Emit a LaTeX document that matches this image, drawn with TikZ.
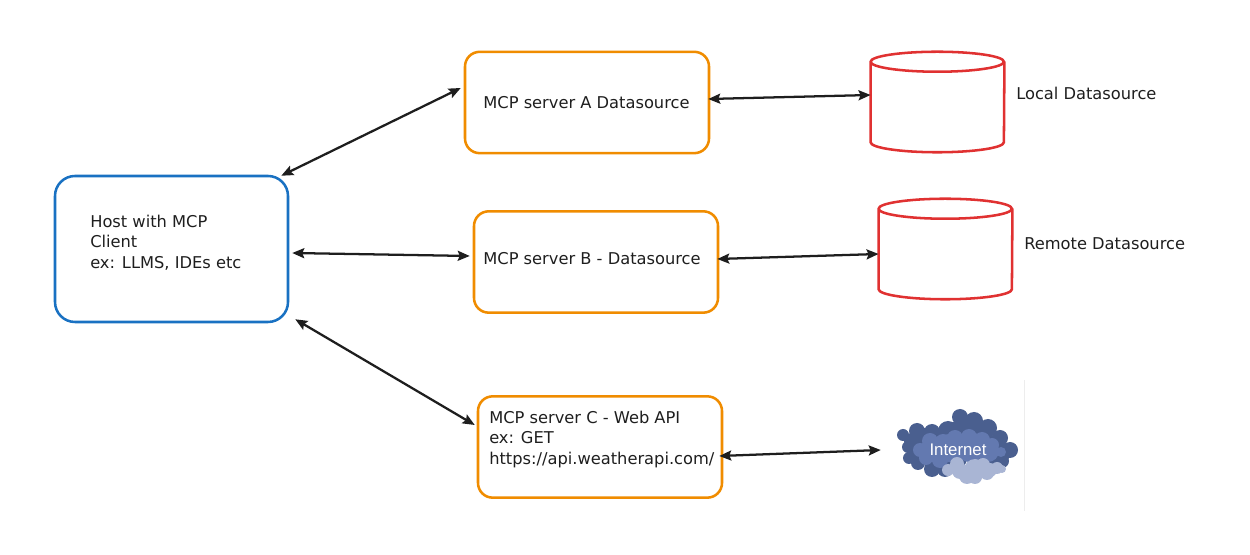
\documentclass[tikz,border=0pt]{standalone}
\usepackage{fontspec}
\setmainfont{DejaVu Sans}
\newfontfamily\inetfont{Liberation Sans}
\usetikzlibrary{arrows.meta}
\definecolor{inkblack}{HTML}{1E1E1E}
\definecolor{hostblue}{HTML}{1971C2}
\definecolor{srvorange}{HTML}{F08C00}
\definecolor{dbred}{HTML}{E03131}
\definecolor{clouddark}{HTML}{4A5F8F}
\definecolor{cloudmid}{HTML}{6379B0}
\definecolor{cloudlight}{HTML}{A9B5D4}
\tikzset{
	hostbox/.style={draw=hostblue,line width=1.9pt,rounded corners=15pt,minimum width=174.75pt,minimum height=109.5pt,inner sep=0pt},
	srvbox/.style={draw=srvorange,line width=1.9pt,rounded corners=11pt,minimum width=183pt,minimum height=76pt,inner sep=0pt},
	dbshape/.style={minimum width=100pt,minimum height=75pt,inner sep=0pt},
	dbline/.style={draw=dbred,line width=1.9pt,line join=round,line cap=round},
	lbl/.style={text=inkblack,align=left,inner sep=0pt,font=\fontsize{12.2}{15.4}\selectfont},
	link/.style={{Stealth[length=9pt,width=7.5pt,inset=1.5pt]}-{Stealth[length=9pt,width=7.5pt,inset=1.5pt]},draw=inkblack,line width=1.7pt},
}
\begin{document}
\begin{tikzpicture}[x=0.75pt,y=-0.75pt]
	\useasboundingbox (0,0) rectangle (1250,555);
	% boxes
	\node[hostbox] (host) at (171.5,249) {};
	\node[srvbox] (srvA) at (587,102.5) {};
	\node[srvbox] (srvB) at (596,262) {};
	\node[srvbox] (srvC) at (600,447) {};
	\node[dbshape] (dbL) at (937.5,102) {};
	\node[dbshape] (dbR) at (945.5,249) {};
	\foreach \n in {dbL,dbR} {
		\draw[dbline] ([yshift=-7.5pt]\n.north west) arc[start angle=180,end angle=540,x radius=50pt,y radius=7.5pt]
			--([yshift=7.5pt]\n.south west) arc[start angle=180,end angle=360,x radius=50pt,y radius=7.5pt]
			--([yshift=-7.5pt]\n.north east);
	}
	% texts
	\node[lbl,anchor=west] (hostTxt) at (90,242.5) {Host with MCP\\Client\\ex: LLMS, IDEs etc};
	\node[lbl] (srvAtxt) at (586.5,103) {MCP server A Datasource};
	\node[lbl] (srvBtxt) at (592,259) {MCP server B - Datasource};
	\node[lbl,anchor=west] (srvCtxt) at (489,439.5) {MCP server C - Web API\\ex: GET\\https://api.weatherapi.com/};
	\node[lbl,anchor=west] (dbLtxt) at (1016,93) {Local Datasource};
	\node[lbl,anchor=west] (dbRtxt) at (1024,244) {Remote Datasource};
	% cloud
	\foreach \x/\y/\r in {903/435/6,912/441/8,925/436/8,917/431/8,932/432/8,960/417/8,974/421/9,988/428/9,1000/438/8,1010/450/8,948/431/10,970/433/12,908/447/6,909/458/6,915/455/8,918/463/7,932/469/8,945/469/8,930/445/14,955/440/18,980/445/16,1000/452/11,935/460/10,955/458/12,985/458/14,1002/461/7}
		\fill[clouddark] (\x,\y) circle (\r);
	\foreach \x/\y/\r in {920/450/7,930/441/8,943/442/8,955/438/8,969/437/8,982/440/8,992/445/7,1001/452/5,926/458/7,940/460/8,932/450/12,950/448/14,970/447/15,988/451/11}
		\fill[cloudmid] (\x,\y) circle (\r);
	\foreach \x/\y/\r in {948/470/6,957/464/7,967/476/8,975/477/7,983/465/7,987/473/7,997/468/6,1002/469/4,975/470/11,960/471/8,990/470/7}
		\fill[cloudlight] (\x,\y) circle (\r);
	\node[text=white,inner sep=0pt,minimum width=115.5pt,font=\inetfont\fontsize{12.6}{14}\selectfont] (inet) at (958,450) {Internet};
	\draw[black!7,line width=0.75pt] (1024,380)--(1024,511);
	% links
	\draw[link] ([shift={(-8,1)}]host.north east)--([shift={(-3,-14.5)}]srvA.west);
	\draw[link] ([shift={(3,4)}]host.east)--([shift={(-3,-6)}]srvB.west);
	\draw[link] ([shift={(6,-4)}]host.south east)--([shift={(-2,-22)}]srvC.west);
	\draw[link] ([shift={(-2,-3.5)}]srvA.east)--([yshift=5.25pt]dbL.west);
	\draw[link] ([shift={(-2,-3)}]srvB.east)--([yshift=-3.75pt]dbR.west);
	\draw[link] ([shift={(-4,9)}]srvC.east)--(inet.west);
\end{tikzpicture}
\end{document}
